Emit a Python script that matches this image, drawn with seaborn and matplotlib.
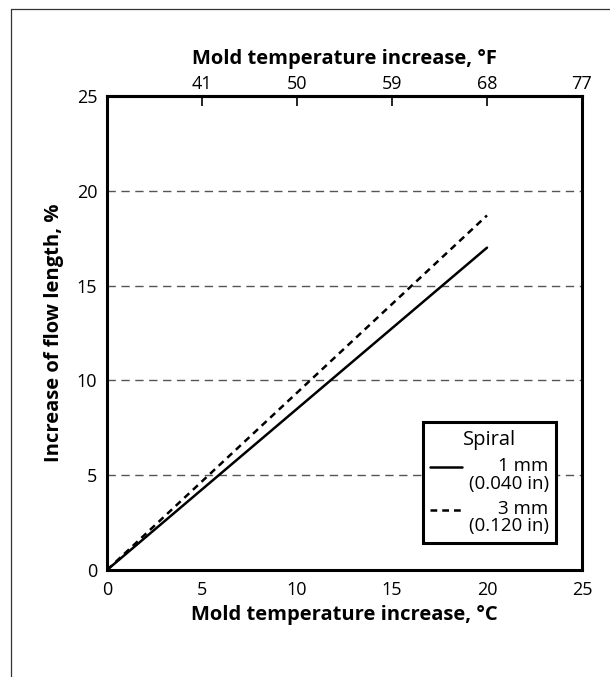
import numpy as np
import pandas as pd
import matplotlib
matplotlib.use("Agg")
import matplotlib.pyplot as plt
from matplotlib.lines import Line2D
from matplotlib.legend_handler import HandlerLine2D
import seaborn as sns

# Data: flow-length increase vs. mold temperature increase
temp_c = [0, 20]
flow_1mm = [0, 17.0]
flow_3mm = [0, 18.7]
series_labels = ["1 mm\n(0.040 in)", "3 mm\n(0.120 in)"]
x_ticks = [0, 5, 10, 15, 20, 25]
y_ticks = [0, 5, 10, 15, 20, 25]
f_ticks = [41, 50, 59, 68, 77]

df = pd.DataFrame({
    "temp": temp_c + temp_c,
    "flow": flow_1mm + flow_3mm,
    "spiral": [series_labels[0]] * len(temp_c) + [series_labels[1]] * len(temp_c),
})

sns.set_theme(style="white")
plt.rcParams["font.family"] = ["Open Sans", "DejaVu Sans"]
plt.rcParams.update({"text.color": "black", "axes.labelcolor": "black",
                     "xtick.color": "black", "ytick.color": "black"})

DASH = (2.7, 2.0)


class FirstLineHandler(HandlerLine2D):
    """Legend handle drawn level with the first line of a two-line label."""

    def __init__(self, shift, **kw):
        super().__init__(**kw)
        self.shift = shift

    def create_artists(self, legend, orig_handle, xdescent, ydescent,
                       width, height, fontsize, trans):
        arts = super().create_artists(legend, orig_handle, xdescent, ydescent,
                                      width, height, fontsize, trans)
        for a in arts:
            a.set_ydata(np.asarray(a.get_ydata()) + self.shift)
        return arts


fig = plt.figure(figsize=(6.10, 6.77), dpi=100)
ax = fig.add_axes([107 / 610, 1 - 570 / 677, (582 - 107) / 610, (570 - 96) / 677])

sns.lineplot(data=df, x="temp", y="flow", style="spiral",
             dashes={series_labels[0]: "", series_labels[1]: DASH},
             color="black", linewidth=1.8, legend=False, ax=ax)

ax.set_xlim(0, 25)
ax.set_ylim(0, 25)
ax.set_xticks(x_ticks)
ax.set_yticks(y_ticks)
ax.tick_params(direction="in", length=7, width=1.2, colors="black",
               labelsize=13)
ax.tick_params(axis="x", pad=8)
ax.tick_params(axis="y", pad=7)
for s in ax.spines.values():
    s.set_linewidth(2.2)
    s.set_color("black")

for y in y_ticks[1:-1]:
    ax.axhline(y, color="#555555", linewidth=1.0, dashes=(6, 4), zorder=0)

ax.set_xlabel("Mold temperature increase, °C", fontsize=14.5,
              fontweight="bold", labelpad=4)
ax.set_ylabel("Increase of flow length, %", fontsize=14.5,
              fontweight="bold", labelpad=9)

top = ax.secondary_xaxis("top", functions=(lambda c: 32 + 1.8 * c,
                                           lambda f: (f - 32) / 1.8))
top.set_xticks(f_ticks)
top.tick_params(direction="in", length=7, width=1.2, labelsize=13, pad=2,
                colors="black")
top.spines["top"].set_linewidth(2.2)
top.set_xlabel("Mold temperature increase, °F", fontsize=14.5,
               fontweight="bold", labelpad=8)

leg_fs = 13.5
handles = [Line2D([], [], color="black", linewidth=1.8),
           Line2D([], [], color="black", linewidth=1.8, dashes=DASH)]
leg = ax.legend(handles, series_labels, title="Spiral", loc="lower right",
                bbox_to_anchor=(0.946, 0.057), fontsize=leg_fs,
                title_fontsize=14.5, handlelength=1.7, handletextpad=0.35,
                labelspacing=0.4, frameon=True, fancybox=False,
                framealpha=1.0, borderpad=0.4, borderaxespad=0.0,
                handler_map={Line2D: FirstLineHandler(shift=0.45 * leg_fs)})
leg.get_frame().set_edgecolor("black")
leg.get_frame().set_linewidth(2.2)
for t in leg.get_texts():
    t.set_multialignment("right")
    t.set_linespacing(0.95)

# Page frame along the left and top edges
fig.add_artist(Line2D([11 / 610, 11 / 610], [0, 1 - 9 / 677],
                      transform=fig.transFigure, color="#333333", linewidth=0.9))
fig.add_artist(Line2D([11 / 610, 1], [1 - 9 / 677, 1 - 9 / 677],
                      transform=fig.transFigure, color="#333333", linewidth=0.9))

fig.savefig("out.png", dpi=100)
